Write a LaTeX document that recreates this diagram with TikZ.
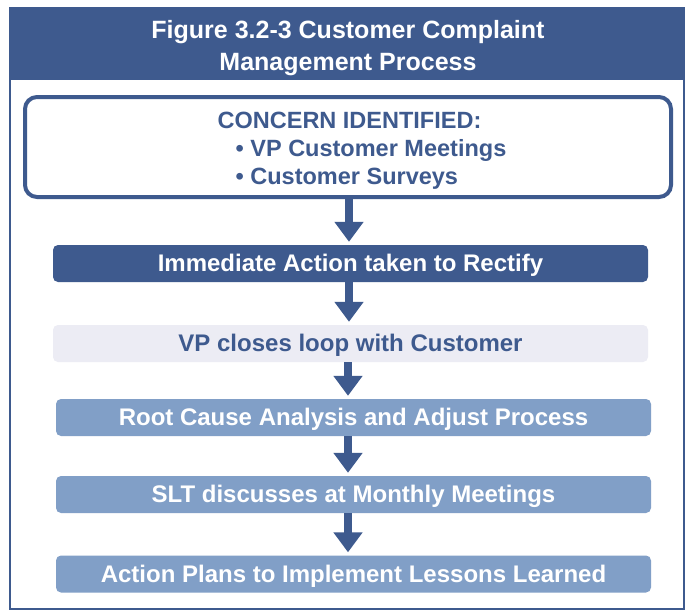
\documentclass[tikz,border=0pt]{standalone}
\usepackage{fontspec}
\setmainfont{Liberation Sans}
\usetikzlibrary{arrows.meta,positioning}
\definecolor{darkblue}{HTML}{3E5A8E}
\definecolor{paleblue}{HTML}{ECECF4}
\definecolor{midblue}{HTML}{819FC7}
\tikzset{
  stepbox/.style={rounded corners=5pt, minimum width=595pt, minimum height=37pt,
    inner sep=0pt, text height=18pt, text depth=1.6pt,
    font=\fontsize{24}{26}\selectfont\bfseries},
  flow/.style={darkblue, line width=8pt, shorten >=3pt,
    -{Triangle[width=28pt,length=20pt]}}
}
\begin{document}
\begin{tikzpicture}[x=1pt,y=1pt]
	\useasboundingbox (0,0) rectangle (687,-613);
	\fill[white] (0,0) rectangle (687,-613);
	\fill[darkblue] (10,-8) rectangle (684,-80);
	\draw[darkblue, line width=2pt] (10,-8) rectangle (684,-609);
	\node[white, align=center, font=\fontsize{25}{32}\selectfont\bfseries] (title) at (348,-48)
		{Figure 3.2-3 Customer Complaint\\Management Process};
	\node[draw=darkblue, line width=4pt, rounded corners=12pt, minimum width=646pt,
		minimum height=100pt] (concern) at (348,-147) {};
	\node[text=darkblue, align=left, inner sep=0pt,
		font=\fontsize{23.5}{28}\selectfont\bfseries] (concerntext) at (362,-151)
		{CONCERN IDENTIFIED:\\\hspace*{18pt}• VP Customer Meetings\\\hspace*{18pt}• Customer Surveys};
	\node[stepbox, fill=darkblue, text=white] (act) at (350.5,-263.5) {Immediate Action taken to Rectify};
	\node[stepbox, fill=paleblue, text=darkblue] (vp) at (350.5,-343.5) {VP closes loop with Customer};
	\node[stepbox, fill=midblue, text=white] (root) at (353.5,-417.5) {Root Cause Analysis and Adjust Process};
	\node[stepbox, fill=midblue, text=white] (slt) at (353.5,-494.5) {SLT discusses at Monthly Meetings};
	\node[stepbox, fill=midblue, text=white] (plans) at (353.5,-574) {Action Plans to Implement Lessons Learned};
	\draw[flow] (concern.south -| 349,0) -- (act.north -| 349,0);
	\draw[flow] (act.south -| 349,0) -- (vp.north -| 349,0);
	\draw[flow] (vp.south -| 348,0) -- (root.north -| 348,0);
	\draw[flow] (root.south -| 348,0) -- (slt.north -| 348,0);
	\draw[flow] (slt.south -| 348,0) -- (plans.north -| 348,0);
\end{tikzpicture}
\end{document}
